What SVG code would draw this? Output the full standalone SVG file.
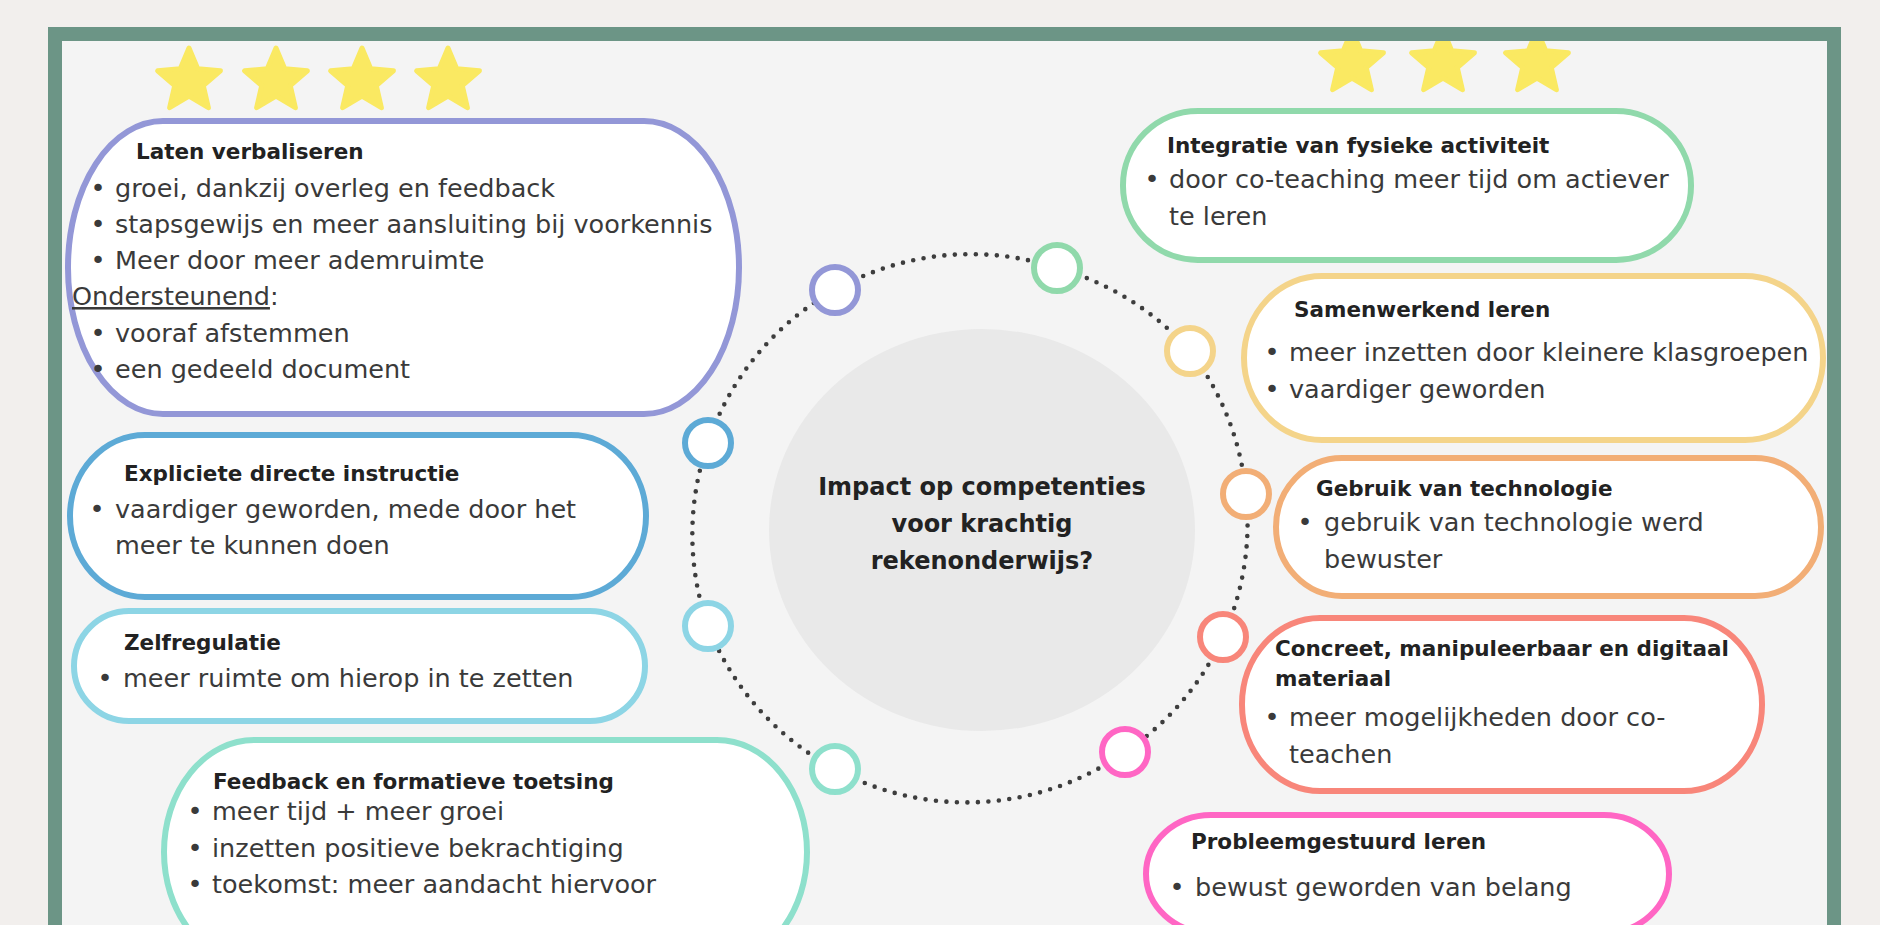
<svg xmlns="http://www.w3.org/2000/svg" width="1880" height="925" viewBox="0 0 1880 925">
<style>
.h{font-family:"DejaVu Sans","Liberation Sans",sans-serif;font-weight:bold;font-size:21.5px;fill:#222}
.b{font-family:"DejaVu Sans","Liberation Sans",sans-serif;font-size:25.5px;fill:#3a3a3a}
.d{font-family:"DejaVu Sans","Liberation Sans",sans-serif;font-size:25.5px;fill:#3a3a3a;text-anchor:middle}
.t{font-family:"DejaVu Sans","Liberation Sans",sans-serif;font-weight:bold;font-size:24px;fill:#222;text-anchor:middle}
.box{fill:#fff;stroke-width:6}
.dot{fill:#fff;stroke-width:6}
.ring{fill:none;stroke:#3d3d3d;stroke-width:4.6;stroke-linecap:round;stroke-dasharray:0 10.5}
.star{fill:#fae962;stroke:#fae962;stroke-width:5;stroke-linejoin:round}
</style>
<defs>
<path id="star" class="star" d="M0,-33 L8.82,-12.14 L31.38,-10.2 L14.27,4.64 L19.4,26.7 L0,15 L-19.4,26.7 L-14.27,4.64 L-31.38,-10.2 L-8.82,-12.14 Z"/>
</defs>
<rect x="0" y="0" width="1880" height="925" fill="#f2efed"/>
<rect x="62" y="41" width="1765" height="1000" fill="#f4f4f4"/>

<g id="stars-left">
<use href="#star" x="189" y="81"/>
<use href="#star" x="276" y="81"/>
<use href="#star" x="362" y="81"/>
<use href="#star" x="448" y="81"/>
</g>
<g id="stars-right">
<use href="#star" x="1352" y="63"/>
<use href="#star" x="1443" y="63"/>
<use href="#star" x="1537" y="63"/>
</g>

<g id="center">
<ellipse cx="982" cy="530" rx="213" ry="201" fill="#e9e9e9"/>
<text class="t" x="982" y="495">Impact op competenties</text>
<text class="t" x="982" y="532">voor krachtig</text>
<text class="t" x="982" y="569">rekenonderwijs?</text>
</g>

<g id="connectors">
<path class="ring" d="M835,290 A275,275 0 0 1 1057,268"/>
<path class="ring" d="M1057,268 A275,275 0 0 1 1190,351"/>
<path class="ring" d="M1190,351 A275,275 0 0 1 1246,494"/>
<path class="ring" d="M1246,494 A275,275 0 0 1 1223,637"/>
<path class="ring" d="M1223,637 A275,275 0 0 1 1125,752"/>
<path class="ring" d="M1125,752 A275,275 0 0 1 835,769"/>
<path class="ring" d="M835,769 A275,275 0 0 1 708,626"/>
<path class="ring" d="M708,626 A275,275 0 0 1 708,443"/>
<path class="ring" d="M708,443 A275,275 0 0 1 835,290"/>
</g>

<g id="hub-verbaliseren"><circle class="dot" cx="835" cy="290" r="23" stroke="#9397d7"/></g>
<g id="hub-fysiek"><circle class="dot" cx="1057" cy="268" r="23" stroke="#90d9ab"/></g>
<g id="hub-samenwerkend"><circle class="dot" cx="1190" cy="351" r="23" stroke="#f4d48a"/></g>
<g id="hub-technologie"><circle class="dot" cx="1246" cy="494" r="23" stroke="#f2ae76"/></g>
<g id="hub-materiaal"><circle class="dot" cx="1223" cy="637" r="23" stroke="#f8867a"/></g>
<g id="hub-probleem"><circle class="dot" cx="1125" cy="752" r="23" stroke="#ff66c4"/></g>
<g id="hub-feedback"><circle class="dot" cx="835" cy="769" r="23" stroke="#8ee0cc"/></g>
<g id="hub-zelfregulatie"><circle class="dot" cx="708" cy="626" r="23" stroke="#8dd5e5"/></g>
<g id="hub-instructie"><circle class="dot" cx="708" cy="443" r="23" stroke="#5daad6"/></g>

<g id="node-verbaliseren">
<rect class="box" x="68" y="121" width="671" height="293" rx="95" ry="146" stroke="#9397d7"/>
<text class="h" x="136" y="159">Laten verbaliseren</text>
<text class="d" x="98" y="197">•</text><text class="b" x="115" y="197">groei, dankzij overleg en feedback</text>
<text class="d" x="98" y="233">•</text><text class="b" x="115" y="233">stapsgewijs en meer aansluiting bij voorkennis</text>
<text class="d" x="98" y="269">•</text><text class="b" x="115" y="269">Meer door meer ademruimte</text>
<text class="b" x="72" y="305"><tspan text-decoration="underline">Ondersteunend</tspan>:</text>
<text class="d" x="98" y="342">•</text><text class="b" x="115" y="342">vooraf afstemmen</text>
<text class="d" x="98" y="378">•</text><text class="b" x="115" y="378">een gedeeld document</text>
</g>

<g id="node-instructie">
<rect class="box" x="70" y="435" width="576" height="162" rx="75" ry="81" stroke="#5daad6"/>
<text class="h" x="124" y="481">Expliciete directe instructie</text>
<text class="d" x="97" y="518">•</text><text class="b" x="115" y="518">vaardiger geworden, mede door het</text>
<text class="b" x="115" y="554">meer te kunnen doen</text>
</g>

<g id="node-zelfregulatie">
<rect class="box" x="74" y="611" width="571" height="110" rx="55" ry="55" stroke="#8dd5e5"/>
<text class="h" x="124" y="650">Zelfregulatie</text>
<text class="d" x="105" y="687">•</text><text class="b" x="123" y="687">meer ruimte om hierop in te zetten</text>
</g>

<g id="node-feedback">
<rect class="box" x="164" y="740" width="643" height="224" rx="90" ry="112" stroke="#8ee0cc"/>
<text class="h" x="213" y="789">Feedback en formatieve toetsing</text>
<text class="d" x="195" y="820">•</text><text class="b" x="212" y="820">meer tijd + meer groei</text>
<text class="d" x="195" y="857">•</text><text class="b" x="212" y="857">inzetten positieve bekrachtiging</text>
<text class="d" x="195" y="893">•</text><text class="b" x="212" y="893">toekomst: meer aandacht hiervoor</text>
</g>

<g id="node-fysiek">
<rect class="box" x="1123" y="111" width="568" height="149" rx="75" ry="74" stroke="#90d9ab"/>
<text class="h" x="1167" y="153">Integratie van fysieke activiteit</text>
<text class="d" x="1152" y="188">•</text><text class="b" x="1169" y="188">door co-teaching meer tijd om actiever</text>
<text class="b" x="1169" y="225">te leren</text>
</g>

<g id="node-samenwerkend">
<rect class="box" x="1244" y="276" width="579" height="164" rx="78" ry="82" stroke="#f4d48a"/>
<text class="h" x="1294" y="317">Samenwerkend leren</text>
<text class="d" x="1272" y="361">•</text><text class="b" x="1289" y="361">meer inzetten door kleinere klasgroepen</text>
<text class="d" x="1272" y="398">•</text><text class="b" x="1289" y="398">vaardiger geworden</text>
</g>

<g id="node-technologie">
<rect class="box" x="1276" y="458" width="545" height="138" rx="66" ry="69" stroke="#f2ae76"/>
<text class="h" x="1316" y="496">Gebruik van technologie</text>
<text class="d" x="1305" y="531">•</text><text class="b" x="1324" y="531">gebruik van technologie werd</text>
<text class="b" x="1324" y="568">bewuster</text>
</g>

<g id="node-materiaal">
<rect class="box" x="1242" y="618" width="520" height="173" rx="78" ry="86" stroke="#f8867a"/>
<text class="h" x="1275" y="656">Concreet, manipuleerbaar en digitaal</text>
<text class="h" x="1275" y="686">materiaal</text>
<text class="d" x="1272" y="726">•</text><text class="b" x="1289" y="726">meer mogelijkheden door co-</text>
<text class="b" x="1289" y="763">teachen</text>
</g>

<g id="node-probleem">
<rect class="box" x="1146" y="815" width="523" height="118" rx="65" ry="59" stroke="#ff66c4"/>
<text class="h" x="1191" y="849">Probleemgestuurd leren</text>
<text class="d" x="1177" y="896">•</text><text class="b" x="1195" y="896">bewust geworden van belang</text>
</g>

<rect id="frame" x="55" y="34" width="1779" height="1100" fill="none" stroke="#6c9586" stroke-width="14"/>
</svg>
